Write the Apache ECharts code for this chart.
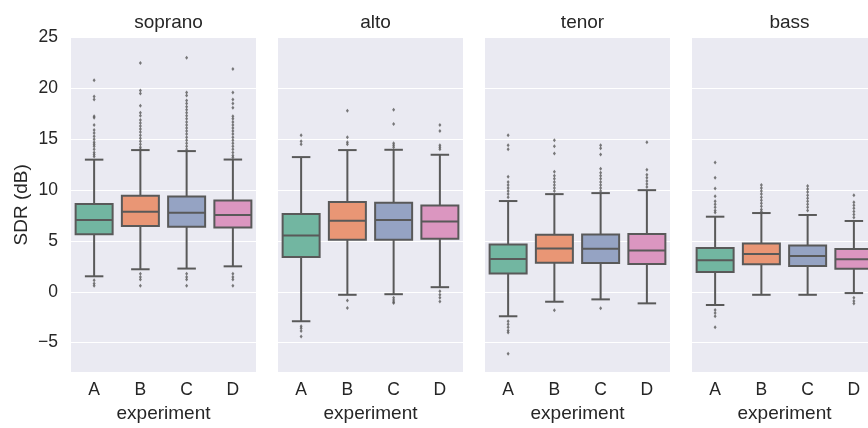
<!DOCTYPE html>
<html>
<head>
<meta charset="utf-8">
<script src="https://cdn.jsdelivr.net/npm/echarts@6/dist/echarts.min.js"></script>
<style>
  html, body { margin: 0; padding: 0; background: #fff; overflow: hidden; }
  /* the canvas is a little wider than the window: the last facet runs past the right edge */
  #chart { width: 880px; height: 428px; }
</style>
</head>
<body>
<div id="chart"></div>
<script>
// Facets and categories
const voices = ['soprano', 'alto', 'tenor', 'bass'];
const experiments = ['A', 'B', 'C', 'D'];
const yTicks = [-5, 0, 5, 10, 15, 20, 25];

// Box statistics per experiment: [lower whisker, Q1, median, Q3, upper whisker]
const sopranoBox = [
  [1.52, 5.66, 7.06, 8.62, 12.99],
  [2.21, 6.47, 7.87, 9.43, 13.93],
  [2.28, 6.38, 7.78, 9.37, 13.83],
  [2.50, 6.31, 7.55, 8.98, 13.00]
];
const altoBox = [
  [-2.90, 3.42, 5.53, 7.65, 13.24],
  [-0.30, 5.11, 6.99, 8.82, 13.93],
  [-0.24, 5.11, 7.06, 8.76, 13.96],
  [0.45, 5.20, 6.90, 8.49, 13.47]
];
const tenorBox = [
  [-2.41, 1.79, 3.22, 4.65, 8.92],
  [-0.98, 2.86, 4.26, 5.60, 9.60],
  [-0.75, 2.83, 4.23, 5.63, 9.70],
  [-1.14, 2.73, 4.06, 5.67, 9.99]
];
const bassBox = [
  [-1.30, 1.95, 3.09, 4.30, 7.38],
  [-0.30, 2.70, 3.71, 4.75, 7.74],
  [-0.30, 2.53, 3.51, 4.56, 7.55],
  [-0.13, 2.25, 3.19, 4.20, 6.96]
];

// Outlying points per experiment
const sopranoFliers = [
  [20.8, 19.2, 18.9, 17.25, 17.1, 16.4, 15.9, 15.6, 15.3, 15.0, 14.7, 14.5, 14.3, 14.0, 13.7, 13.5, 13.3, 1.14, 0.81, 0.58],
  [22.5, 19.8, 19.5, 18.3, 17.6, 17.3, 16.9, 16.6, 16.3, 16.0, 15.7, 15.4, 15.1, 14.8, 14.5, 14.2, 14.0, 1.78, 1.46, 1.2, 0.58],
  [23.0, 19.6, 19.3, 18.8, 18.5, 18.2, 17.9, 17.6, 17.3, 17.0, 16.7, 16.4, 16.1, 15.8, 15.5, 15.2, 14.9, 14.6, 14.3, 14.0, 1.78, 1.46, 1.2, 0.58],
  [21.9, 19.6, 18.9, 18.5, 18.1, 17.25, 17.0, 16.7, 16.4, 16.1, 15.8, 15.5, 15.2, 14.9, 14.6, 14.3, 14.0, 13.7, 13.4, 13.2, 1.78, 1.46, 1.2, 0.58]
];
const altoFliers = [
  [15.4, 14.8, 14.5, -3.4, -3.6, -3.85, -4.4],
  [17.8, 15.2, 14.7, 14.5, -0.85, -1.6],
  [17.9, 16.5, 14.6, 14.4, 14.2, -0.6, -0.8, -1.0, -1.1],
  [16.4, 15.8, 14.4, 14.2, 14.0, 0.05, -0.3, -0.6, -0.95]
];
const tenorFliers = [
  [15.4, 14.4, 14.0, 11.3, 10.8, 10.5, 10.2, 9.9, 9.6, 9.3, -2.9, -3.2, -3.5, -3.8, -4.0, -6.1],
  [14.9, 14.3, 13.6, 11.8, 11.4, 11.1, 10.8, 10.5, 10.2, 9.9, -1.83],
  [14.4, 14.1, 13.5, 12.1, 11.7, 11.4, 11.1, 10.8, 10.5, 10.2, 9.9, -1.63],
  [14.7, 12.0, 11.5, 11.2, 10.9, 10.6, 10.3]
];
const bassFliers = [
  [12.7, 11.2, 10.15, 9.4, 8.9, 8.6, 8.3, 8.0, 7.8, -1.8, -2.1, -2.4, -3.5],
  [10.5, 10.2, 9.9, 9.6, 9.3, 9.0, 8.7, 8.4, 8.1, 7.9],
  [10.4, 10.1, 9.8, 9.5, 9.2, 8.9, 8.6, 8.3, 8.0],
  [9.5, 8.8, 8.5, 8.2, 7.9, 7.6, 7.3, -0.6, -0.9, -1.15]
];

const allBoxes = [sopranoBox, altoBox, tenorBox, bassBox];
const allFliers = [sopranoFliers, altoFliers, tenorFliers, bassFliers];

// Styling
const boxColors = ['#72b6a1', '#e99675', '#95a3c3', '#db96c0'];
const lineGray = '#595959';
const textColor = '#262626';
const panelBg = '#eaeaf2';
const fontFamily = '"Liberation Sans", Arial, sans-serif';
const yMin = -7.9, yMax = 25;
const panelLeft = [71, 278, 485, 692];
const panelWidth = 185;
const panelTop = 37.5;
const panelHeight = 336.5;

function renderBox(params, api) {
  const cat = api.value(0);
  const lo = api.coord([cat, api.value(1)]);
  const q1 = api.coord([cat, api.value(2)]);
  const med = api.coord([cat, api.value(3)]);
  const q3 = api.coord([cat, api.value(4)]);
  const hi = api.coord([cat, api.value(5)]);
  const cx = med[0];
  const bw = api.size([1, 0])[0] * 0.8;
  const cap = bw / 4;
  const color = boxColors[api.value(6)];
  const stroke = { stroke: lineGray, lineWidth: 2 };
  return {
    type: 'group',
    children: [
      { type: 'line', shape: { x1: cx, y1: q1[1], x2: cx, y2: lo[1] }, style: stroke },
      { type: 'line', shape: { x1: cx, y1: q3[1], x2: cx, y2: hi[1] }, style: stroke },
      { type: 'line', shape: { x1: cx - cap, y1: lo[1], x2: cx + cap, y2: lo[1] }, style: stroke },
      { type: 'line', shape: { x1: cx - cap, y1: hi[1], x2: cx + cap, y2: hi[1] }, style: stroke },
      { type: 'rect', shape: { x: cx - bw / 2, y: q3[1], width: bw, height: q1[1] - q3[1] },
        style: { fill: color, stroke: lineGray, lineWidth: 2 } },
      { type: 'line', shape: { x1: cx - bw / 2, y1: med[1], x2: cx + bw / 2, y2: med[1] }, style: stroke }
    ]
  };
}

const grids = [], xAxes = [], yAxes = [], series = [], titles = [];
voices.forEach((voice, i) => {
  grids.push({
    left: panelLeft[i], top: panelTop, width: panelWidth, height: panelHeight,
    show: true, backgroundColor: panelBg, borderWidth: 0
  });
  titles.push({
    text: voice,
    left: panelLeft[i] + panelWidth / 2,
    top: 8,
    textAlign: 'center',
    textStyle: { fontFamily, fontSize: 19, fontWeight: 'normal', color: textColor }
  });
  xAxes.push({
    type: 'category', gridIndex: i, data: experiments,
    name: 'experiment', nameLocation: 'middle', nameGap: 29,
    nameTextStyle: { fontFamily, fontSize: 19, color: textColor },
    axisLine: { show: false }, axisTick: { show: false }, splitLine: { show: false },
    axisLabel: { fontFamily, fontSize: 17.5, color: textColor, margin: 9 }
  });
  yAxes.push({
    type: 'value', gridIndex: i, min: yMin, max: yMax,
    name: i === 0 ? 'SDR (dB)' : '', nameLocation: 'middle', nameGap: 40,
    nameTextStyle: { fontFamily, fontSize: 19, color: textColor },
    axisLine: { show: false },
    axisTick: { show: false, customValues: yTicks },
    axisLabel: { show: i === 0, customValues: yTicks, fontFamily, fontSize: 17.5, color: textColor, margin: 13,
      formatter: v => (v < 0 ? '\u2212' + Math.abs(v) : String(v)) },
    splitLine: { show: true, lineStyle: { color: '#ffffff', width: 1.2 } }
  });
  series.push({
    type: 'custom', xAxisIndex: i, yAxisIndex: i,
    renderItem: renderBox,
    encode: { x: 0, y: [1, 2, 3, 4, 5] },
    data: allBoxes[i].map((b, k) => [k, b[0], b[1], b[2], b[3], b[4], k]),
    z: 2
  });
  const pts = [];
  allFliers[i].forEach((vals, k) => vals.forEach(v => pts.push([k, v])));
  series.push({
    type: 'scatter', xAxisIndex: i, yAxisIndex: i,
    symbol: 'diamond', symbolSize: [3, 4],
    itemStyle: { color: lineGray },
    data: pts, z: 3
  });
});

const chart = echarts.init(document.getElementById('chart'), null, { renderer: 'canvas' });
chart.setOption({
  animation: false,
  backgroundColor: '#ffffff',
  title: titles,
  grid: grids,
  xAxis: xAxes,
  yAxis: yAxes,
  series
});
</script>
</body>
</html>
